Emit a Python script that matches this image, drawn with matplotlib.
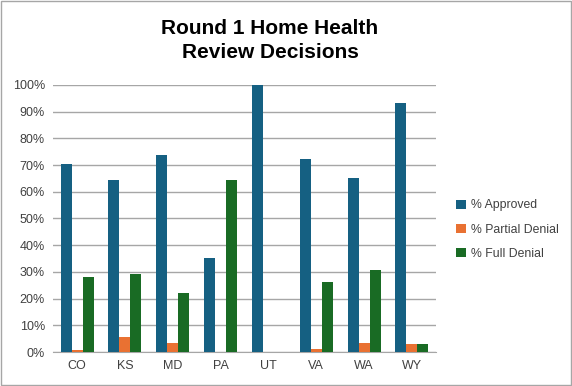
import numpy as np
import matplotlib.pyplot as plt
from matplotlib.patches import Rectangle
from matplotlib.ticker import PercentFormatter

states = ["CO", "KS", "MD", "PA", "UT", "VA", "WA", "WY"]
approved = [70.4, 64.4, 73.8, 35.2, 100.0, 72.3, 65.2, 93.3]
partial = [0.8, 5.7, 3.5, 0.0, 0.0, 1.1, 3.5, 3.0]
full = [28.1, 29.2, 22.1, 64.4, 0.0, 26.2, 30.7, 3.0]

plt.rcParams['font.family'] = ['Liberation Sans', 'DejaVu Sans']

fig = plt.figure(figsize=(5.72, 3.86), dpi=100)
ax = fig.add_axes([0.093, 0.088, 0.669, 0.692])

x = np.arange(len(states))
w = 0.23
ax.bar(x - w, approved, w, color="#156082", label="% Approved", zorder=3)
ax.bar(x, partial, w, color="#E97132", label="% Partial Denial", zorder=3)
ax.bar(x + w, full, w, color="#196B24", label="% Full Denial", zorder=3)

ax.set_xlim(-0.5, len(states) - 0.5)
ax.set_ylim(0, 100)
ax.set_yticks(np.arange(0, 101, 10))
ax.yaxis.set_major_formatter(PercentFormatter(decimals=0))
ax.set_xticks(x)
ax.set_xticklabels(states)
ax.grid(axis="y", color="#A6A6A6", linewidth=1, zorder=0)
for s in ["left", "right", "top"]:
    ax.spines[s].set_visible(False)
ax.spines["bottom"].set_color("#A6A6A6")
ax.tick_params(axis="both", length=0, labelsize=9, colors="#404040", pad=6)

fig.text(0.472, 0.895, "Round 1 Home Health\nReview Decisions", ha="center", va="center",
         fontsize=15, fontweight="bold", linespacing=1.3)

fig.legend(loc="center left", bbox_to_anchor=(0.778, 0.405), frameon=False,
           fontsize=8.8, handlelength=0.8, handleheight=0.8, handletextpad=0.4,
           labelspacing=1.0, labelcolor="#404040")

fig.patches.append(Rectangle((0.001, 0.002), 0.997, 0.996, transform=fig.transFigure,
                             fill=False, edgecolor="#A6A6A6", linewidth=1))

fig.savefig("out.png", dpi=100)
